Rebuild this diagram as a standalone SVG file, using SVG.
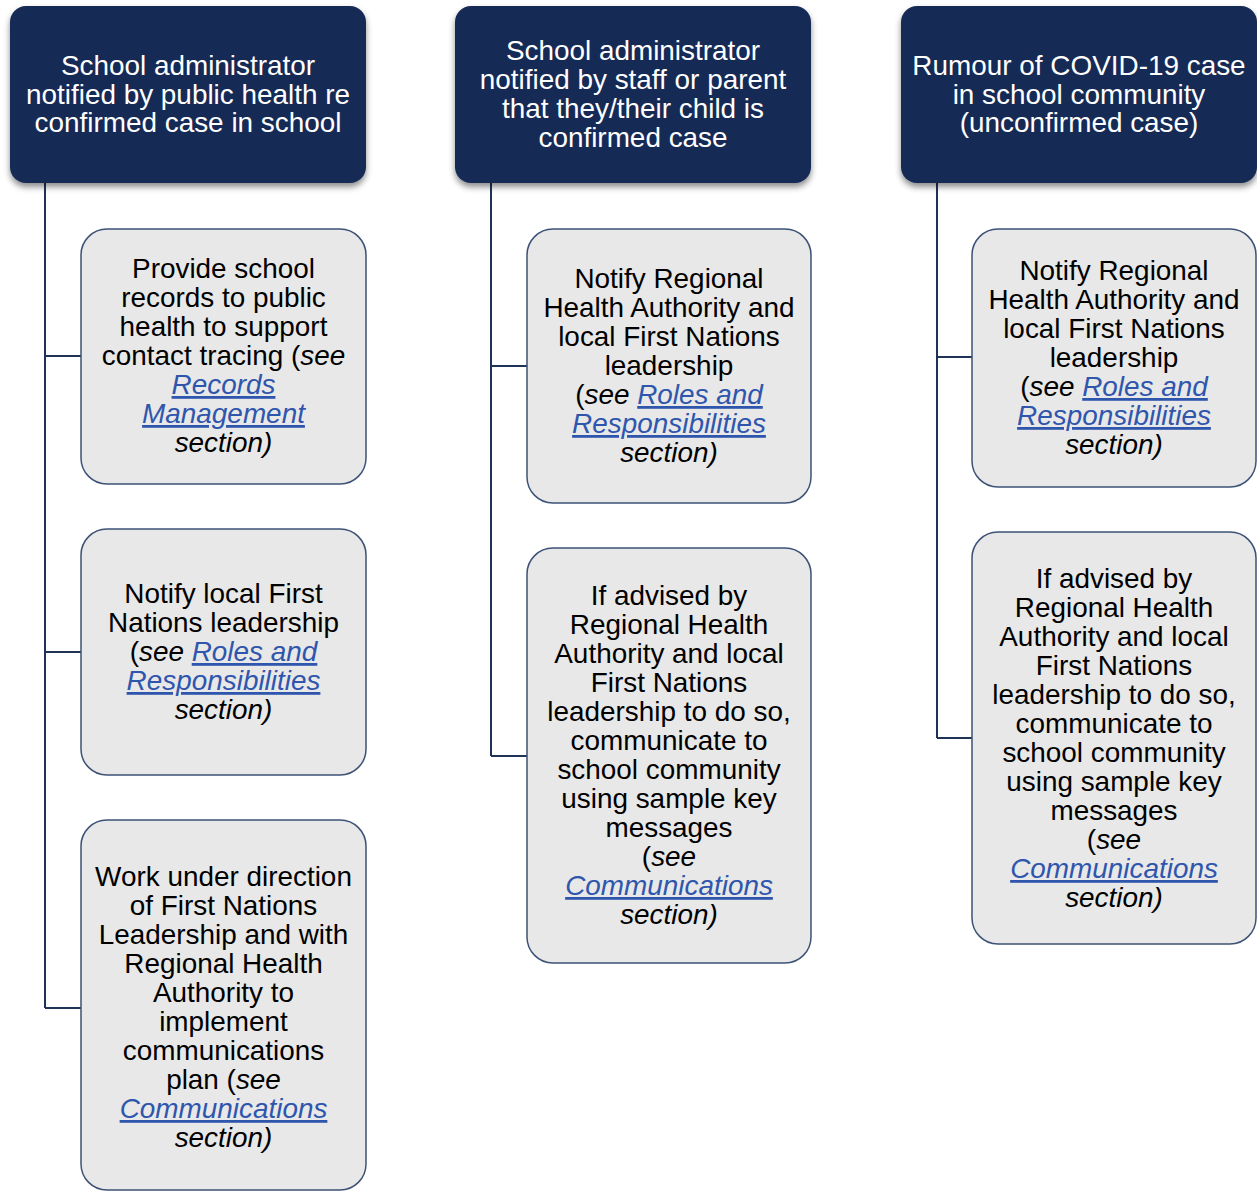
<svg xmlns="http://www.w3.org/2000/svg" width="1257" height="1192" viewBox="0 0 1257 1192">
  <defs>
    <filter id="shadow" x="-10%" y="-10%" width="120%" height="130%">
      <feDropShadow dx="0" dy="4" stdDeviation="3" flood-color="#000" flood-opacity="0.45"/>
    </filter>
  </defs>
  <style>
    .head rect { fill: #172b57; filter: url(#shadow); }
    .head text { fill: #ffffff; }
    .step rect { fill: #e8e8e8; stroke: #3c5276; stroke-width: 1.5; }
    .step text { fill: #000000; }
    text { font-family: "Liberation Sans", Arial, sans-serif; font-size: 27.9px; text-anchor: middle; }
    .it { font-style: italic; }
    .ln { font-style: italic; fill: #2f56ad; text-decoration: underline; }
    .wire { fill: none; stroke: #1f3357; stroke-width: 2; }
  </style>

  <!-- connectors from each trigger down to its steps -->
  <g id="connectors">
    <path class="wire" d="M45,183 V1008 M45,356 H81 M45,652 H81 M45,1008 H81"/>
    <path class="wire" d="M491,183 V756 M491,366 H527 M491,756 H527"/>
    <path class="wire" d="M937,183 V738 M937,357 H972 M937,738 H972"/>
  </g>

  <!-- column 1 -->
  <g id="trigger-public-health" class="head">
    <rect x="10" y="6" width="356" height="177" rx="16"/>
    <text x="188" y="75">School administrator</text>
    <text x="188" y="104">notified by public health re</text>
    <text x="188" y="132">confirmed case in school</text>
  </g>
  <g id="step-records" class="step">
    <rect x="81" y="229" width="285" height="255" rx="26"/>
    <text x="223.5" y="278">Provide school</text>
    <text x="223.5" y="307">records to public</text>
    <text x="223.5" y="336">health to support</text>
    <text x="223.5" y="365">contact tracing (<tspan class="it">see</tspan></text>
    <text x="223.5" y="394"><tspan class="ln">Records</tspan></text>
    <text x="223.5" y="423"><tspan class="ln">Management</tspan></text>
    <text x="223.5" y="452" class="it">section)</text>
  </g>
  <g id="step-notify-fn" class="step">
    <rect x="81" y="529" width="285" height="246" rx="26"/>
    <text x="223.5" y="603">Notify local First</text>
    <text x="223.5" y="632">Nations leadership</text>
    <text x="223.5" y="661">(<tspan class="it">see </tspan><tspan class="ln">Roles and</tspan></text>
    <text x="223.5" y="690"><tspan class="ln">Responsibilities</tspan></text>
    <text x="223.5" y="719" class="it">section)</text>
  </g>
  <g id="step-comm-plan" class="step">
    <rect x="81" y="820" width="285" height="370" rx="26"/>
    <text x="223.5" y="886">Work under direction</text>
    <text x="223.5" y="915">of First Nations</text>
    <text x="223.5" y="944">Leadership and with</text>
    <text x="223.5" y="973">Regional Health</text>
    <text x="223.5" y="1002">Authority to</text>
    <text x="223.5" y="1031">implement</text>
    <text x="223.5" y="1060">communications</text>
    <text x="223.5" y="1089">plan (<tspan class="it">see</tspan></text>
    <text x="223.5" y="1118"><tspan class="ln">Communications</tspan></text>
    <text x="223.5" y="1147" class="it">section)</text>
  </g>

  <!-- column 2 -->
  <g id="trigger-staff-parent" class="head">
    <rect x="455" y="6" width="356" height="177" rx="16"/>
    <text x="633" y="60">School administrator</text>
    <text x="633" y="89">notified by staff or parent</text>
    <text x="633" y="118">that they/their child is</text>
    <text x="633" y="147">confirmed case</text>
  </g>
  <g id="step-notify-rha" class="step">
    <rect x="527" y="229" width="284" height="274" rx="26"/>
    <text x="669" y="288">Notify Regional</text>
    <text x="669" y="317">Health Authority and</text>
    <text x="669" y="346">local First Nations</text>
    <text x="669" y="375">leadership</text>
    <text x="669" y="404">(<tspan class="it">see </tspan><tspan class="ln">Roles and</tspan></text>
    <text x="669" y="433"><tspan class="ln">Responsibilities</tspan></text>
    <text x="669" y="462" class="it">section)</text>
  </g>
  <g id="step-communicate" class="step">
    <rect x="527" y="548" width="284" height="415" rx="26"/>
    <text x="669" y="605">If advised by</text>
    <text x="669" y="634">Regional Health</text>
    <text x="669" y="663">Authority and local</text>
    <text x="669" y="692">First Nations</text>
    <text x="669" y="721">leadership to do so,</text>
    <text x="669" y="750">communicate to</text>
    <text x="669" y="779">school community</text>
    <text x="669" y="808">using sample key</text>
    <text x="669" y="837">messages</text>
    <text x="669" y="866">(<tspan class="it">see</tspan></text>
    <text x="669" y="895"><tspan class="ln">Communications</tspan></text>
    <text x="669" y="924" class="it">section)</text>
  </g>

  <!-- column 3 -->
  <g id="trigger-rumour" class="head">
    <rect x="901" y="6" width="356" height="177" rx="16"/>
    <text x="1079" y="75">Rumour of COVID-19 case</text>
    <text x="1079" y="104">in school community</text>
    <text x="1079" y="132">(unconfirmed case)</text>
  </g>
  <g id="step-notify-rha-rumour" class="step">
    <rect x="972" y="229" width="284" height="258" rx="26"/>
    <text x="1114" y="280">Notify Regional</text>
    <text x="1114" y="309">Health Authority and</text>
    <text x="1114" y="338">local First Nations</text>
    <text x="1114" y="367">leadership</text>
    <text x="1114" y="396">(<tspan class="it">see </tspan><tspan class="ln">Roles and</tspan></text>
    <text x="1114" y="425"><tspan class="ln">Responsibilities</tspan></text>
    <text x="1114" y="454" class="it">section)</text>
  </g>
  <g id="step-communicate-rumour" class="step">
    <rect x="972" y="532" width="284" height="412" rx="26"/>
    <text x="1114" y="588">If advised by</text>
    <text x="1114" y="617">Regional Health</text>
    <text x="1114" y="646">Authority and local</text>
    <text x="1114" y="675">First Nations</text>
    <text x="1114" y="704">leadership to do so,</text>
    <text x="1114" y="733">communicate to</text>
    <text x="1114" y="762">school community</text>
    <text x="1114" y="791">using sample key</text>
    <text x="1114" y="820">messages</text>
    <text x="1114" y="849">(<tspan class="it">see</tspan></text>
    <text x="1114" y="878"><tspan class="ln">Communications</tspan></text>
    <text x="1114" y="907" class="it">section)</text>
  </g>
</svg>
